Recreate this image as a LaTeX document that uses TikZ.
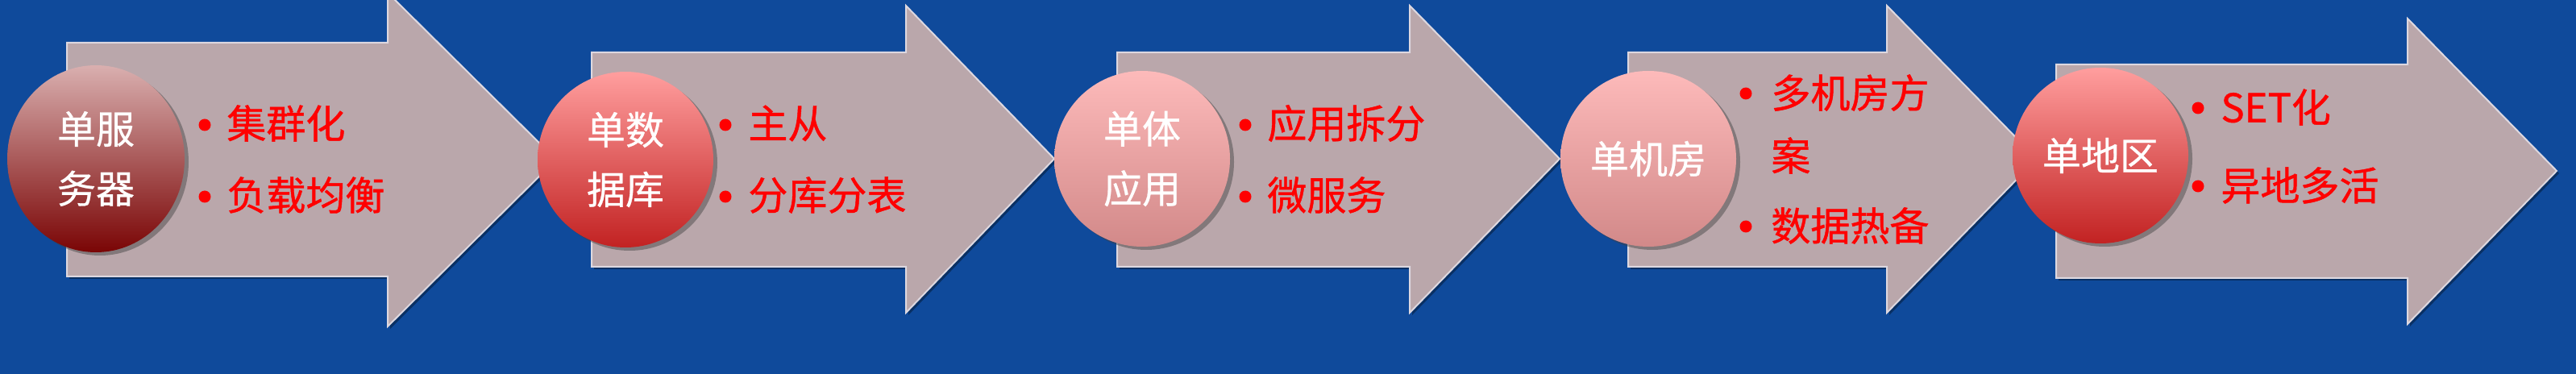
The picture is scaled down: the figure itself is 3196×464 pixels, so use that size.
\documentclass[tikz,border=0pt]{standalone}
\usepackage{fontspec}
\setmainfont{Noto Sans CJK SC}
\newfontfamily\redfont[FakeBold=0.9]{Noto Sans CJK SC}
\newfontfamily\whitefont[FakeBold=0.6]{Noto Sans CJK SC}
\usetikzlibrary{shapes.geometric,shadows}
\definecolor{bgblue}{HTML}{0F4A9B}
\definecolor{arrowfill}{HTML}{BAA7AB}
\definecolor{arrowedge}{HTML}{DDD8E0}
\definecolor{darktop}{HTML}{D9AFAF}
\definecolor{darkbot}{HTML}{7A0505}
\definecolor{midtop}{HTML}{FF9E9E}
\definecolor{midbot}{HTML}{C22222}
\definecolor{lighttop}{HTML}{FDBABA}
\definecolor{lightbot}{HTML}{D28989}
\begin{document}
\begin{tikzpicture}[x=0.5pt,y=-0.5pt,
  arrowshape/.style={fill=arrowfill, draw=arrowedge, line width=1pt, line join=miter,
    drop shadow={shadow xshift=1.5pt, shadow yshift=-1.5pt, opacity=0.35, fill=black}},
  ball/.style={shape=ellipse, inner sep=0pt, minimum width=109pt, minimum height=109pt,
    text=white, font=\whitefont\fontsize{24}{37}\selectfont, align=center,
    drop shadow={shadow xshift=2.5pt, shadow yshift=-2pt, opacity=0.45, fill=black!75}},
  itemtext/.style={anchor=west, inner sep=0pt, text=red, font=\redfont\fontsize{24.5}{39}\selectfont, align=left},
  dot/.style={circle, fill=red, inner sep=0pt, minimum size=7.5pt}
]
\useasboundingbox (0,0) rectangle (3196,464);
\fill[bgblue] (0,0) rectangle (3196,464);

% arrow 1
\draw[arrowshape] (83,53) -- (481,53) -- (481,-9) -- (690,198) -- (481,405) -- (481,343) -- (83,343) -- cycle;
\node[ball, minimum width=110pt, minimum height=116pt, top color=darktop, bottom color=darkbot] (c1) at (119,197) {单服\\务器};
\node[dot] (d11) at (254,155) {};
\node[itemtext] (t11) at (281,153) {集群化};
\node[dot] (d12) at (254,244) {};
\node[itemtext] (t12) at (281,242) {负载均衡};

% arrow 2
\draw[arrowshape] (734,65) -- (1124,65) -- (1124,7) -- (1308,197) -- (1124,388) -- (1124,331) -- (734,331) -- cycle;
\node[ball, top color=midtop, bottom color=midbot] (c2) at (776,198) {单数\\据库};
\node[dot] (d21) at (900,155) {};
\node[itemtext] (t21) at (928,153) {主从};
\node[dot] (d22) at (900,244) {};
\node[itemtext] (t22) at (928,242) {分库分表};

% arrow 3
\draw[arrowshape] (1386,65) -- (1749,65) -- (1749,7) -- (1935,197) -- (1749,388) -- (1749,331) -- (1386,331) -- cycle;
\node[ball, top color=lighttop, bottom color=lightbot] (c3) at (1417,197) {单体\\应用};
\node[dot] (d31) at (1545,155) {};
\node[itemtext] (t31) at (1572,153) {应用拆分};
\node[dot] (d32) at (1545,244) {};
\node[itemtext] (t32) at (1572,242) {微服务};

% arrow 4
\draw[arrowshape] (2020,65) -- (2341,65) -- (2341,7) -- (2527,197) -- (2341,388) -- (2341,331) -- (2020,331) -- cycle;
\node[ball, top color=lighttop, bottom color=lightbot] (c4) at (2045,197) {单机房};
\node[dot] (d41) at (2166,116) {};
\node[itemtext] (t41) at (2197,154) {多机房方\\案};
\node[dot] (d42) at (2166,281) {};
\node[itemtext] (t42) at (2197,280) {数据热备};

% arrow 5
\draw[arrowshape] (2551,80) -- (2987,80) -- (2987,23) -- (3172,212) -- (2987,402) -- (2987,345) -- (2551,345) -- cycle;
\node[ball, top color=midtop, bottom color=midbot] (c5) at (2606,193) {单地区};
\node[dot] (d51) at (2727,134) {};
\node[itemtext] (t51) at (2755,133) {SET化};
\node[dot] (d52) at (2727,231) {};
\node[itemtext] (t52) at (2755,230) {异地多活};
\end{tikzpicture}
\end{document}
